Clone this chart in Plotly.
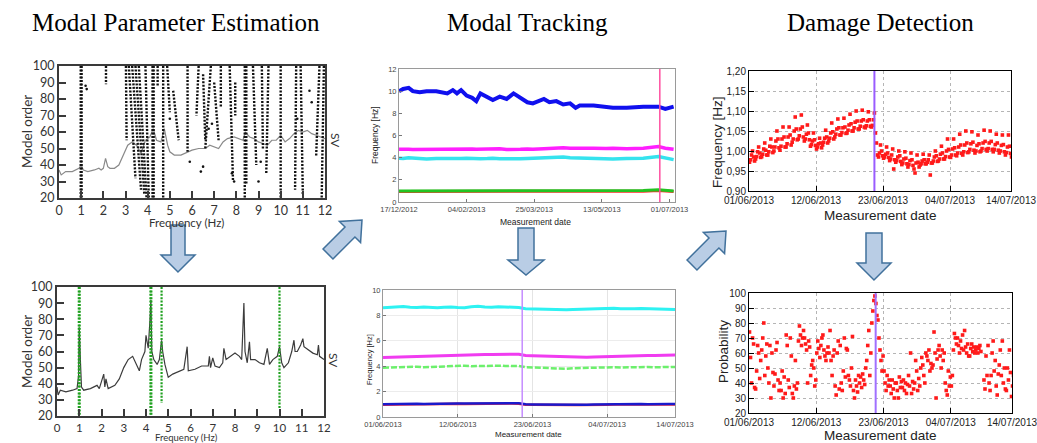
import plotly.graph_objects as go
from datetime import datetime, timedelta

W, H = 1037, 443

# ---------------- Panel 1 : stabilisation diagram ----------------
sv_freq_1 = [0, 0.1, 0.3, 0.6, 0.9, 1.0, 1.1, 1.3, 1.6, 1.8, 1.9, 2.0, 2.1, 2.2, 2.3,
             2.5, 2.7, 2.9, 3.1, 3.3, 3.5, 3.7, 3.9, 4.1, 4.25, 4.4, 4.6, 4.75, 4.9, 5.0,
             5.2, 5.5, 5.8, 6.0, 6.3, 6.6, 6.8, 7.0, 7.2, 7.4, 7.6, 7.9, 8.1, 8.3, 8.4,
             8.6, 8.8, 9.0, 9.2, 9.4, 9.6, 9.8, 10.0, 10.2, 10.4, 10.6, 10.8, 11.0, 11.2,
             11.4, 11.6, 11.8, 12.0]
sv_val_1 = [37, 34, 36, 36, 38, 40, 37, 36, 37, 38, 37, 38, 44, 39, 38,
            38, 40, 46, 52, 54, 52, 47, 55, 57, 62, 55, 54, 62, 52, 48,
            46, 46, 48, 49, 50, 50, 52, 51, 50, 54, 56, 57, 56, 55, 60,
            57, 56, 54, 53, 52, 55, 55, 58, 54, 56, 59, 61, 60, 61,
            59, 58, 57, 56]

stab_f_top = [0.98, 1.02, 2.12, 3.02, 3.15, 3.30, 3.45, 3.60, 3.90, 4.22, 4.27, 4.45, 4.70, 4.88, 5.15,
              5.80, 6.30, 6.50, 6.85, 7.00, 7.30, 7.70, 7.95, 8.38, 8.45, 8.75, 9.15, 9.45, 10.00, 10.70,
              10.90, 11.75, 11.95]
stab_o_top = [100, 100, 100, 100, 100, 100, 100, 100, 100, 100, 100, 100, 100, 100, 85,
              100, 100, 95, 100, 90, 100, 100, 90, 100, 100, 100, 100, 100, 100, 100,
              100, 100, 100]
stab_f_bot = [0.98, 1.02, 2.12, 3.05, 3.45, 3.70, 3.85, 3.95, 4.05, 4.22, 4.27, 4.45, 4.70, 5.00, 5.40,
              5.80, 6.20, 6.60, 6.60, 7.20, 7.30, 7.85, 7.95, 8.38, 8.45, 8.90, 9.20, 9.35, 10.00, 10.65,
              11.00, 11.60, 11.85]
stab_o_bot = [20, 20, 89, 55, 32, 25, 22, 20, 20, 20, 20, 88, 20, 72, 55,
              48, 70, 55, 50, 55, 75, 30, 70, 20, 28, 40, 50, 35, 20, 25,
              22, 45, 20]
iso_f = [1.20, 1.25, 6.40, 6.50, 5.90, 9.10, 7.80, 7.90, 9.00, 10.75, 5.00, 6.75, 6.90, 11.3, 11.4]
iso_o = [88, 86, 36, 39, 42, 42, 35, 30, 30, 68, 68, 62, 65, 85, 78]

# ---------------- Panel 2 : selected modes ----------------
sv_freq_2 = [0.0, 0.05, 0.15, 0.4, 0.7, 0.9, 0.97, 1.0, 1.05, 1.1, 1.2, 1.5, 1.8, 1.9, 2.1,
             2.15, 2.2, 2.3, 2.6, 2.8, 3.0, 3.2, 3.4, 3.5, 3.6, 3.7, 3.8, 3.95, 4.0, 4.1,
             4.18, 4.22, 4.26, 4.35, 4.5, 4.6, 4.7, 4.75, 4.85, 5.0, 5.2, 5.5, 5.7, 5.85, 5.9,
             6.2, 6.5, 6.8, 6.85, 6.9, 7.0, 7.1, 7.3, 7.45, 7.5, 7.6, 7.8, 8.0, 8.2, 8.3,
             8.4, 8.45, 8.55, 8.65, 8.7, 8.9, 9.1, 9.3, 9.45, 9.55, 9.7, 9.9, 10.0, 10.1, 10.2,
             10.4, 10.55, 10.65, 10.7, 10.8, 10.95, 11.05, 11.1, 11.3, 11.5, 11.7, 11.75, 11.8, 12.0]
sv_val_2 = [38, 33, 36, 35, 36, 37, 45, 75, 55, 38, 36, 37, 39, 37, 46,
            38, 43, 37, 39, 43, 50, 55, 57, 54, 52, 48, 55, 60, 70, 62,
            80, 92, 60, 55, 52, 55, 67, 60, 52, 44, 46, 48, 49, 63, 48,
            49, 51, 51, 57, 50, 56, 51, 50, 53, 62, 55, 57, 59, 57, 55,
            90, 60, 53, 66, 55, 55, 53, 52, 62, 52, 55, 57, 63, 53, 50,
            53, 60, 67, 60, 60, 64, 68, 63, 61, 59, 58, 64, 57, 55]
sel_f = [0.98, 1.02, 4.20, 4.24, 4.70, 10.00]
sel_o_top = [100, 100, 100, 100, 100, 100]
sel_o_bot = [20, 20, 20, 20, 28, 25]

# ---------------- Panel 3 : long-term tracking ----------------
track_start = "2012-12-17"
track_day = [0, 3, 7, 10, 15, 20, 27, 35, 39, 42, 45, 49, 53, 56, 59, 64, 68, 73, 78, 83, 88, 93, 97,
             105, 109, 114, 119, 124, 128, 131, 141, 150, 155, 165, 177, 188, 193, 199]
blue_3 = [10.0, 10.2, 10.3, 10.0, 9.9, 10.0, 10.0, 9.8, 10.1, 9.8, 10.1, 9.6, 9.4, 9.1, 9.8, 9.5, 9.2, 9.5,
          9.3, 9.8, 9.4, 9.0, 8.9, 9.3, 9.0, 9.1, 8.8, 8.9, 8.5, 8.7, 8.7, 8.6, 8.5, 8.5, 8.6, 8.6, 8.4, 8.6]
magenta_3 = [4.75, 4.78, 4.76, 4.74, 4.75, 4.72, 4.74, 4.75, 4.73, 4.76, 4.78, 4.80, 4.78, 4.75, 4.77,
             4.80, 4.82, 4.80, 4.74, 4.72, 4.75, 4.78, 4.76, 4.80, 4.85, 4.88, 4.90, 4.86, 4.84, 4.88,
             4.85, 4.82, 4.84, 4.80, 4.86, 5.00, 4.85, 4.75]
cyan_3 = [3.95, 3.92, 4.00, 3.96, 3.90, 3.88, 3.92, 3.90, 3.95, 3.88, 3.92, 3.95, 3.92, 3.88, 3.90,
          3.92, 3.95, 3.90, 3.88, 3.85, 3.90, 3.92, 3.95, 3.95, 4.00, 4.02, 4.05, 4.00, 3.98, 3.95,
          3.92, 3.90, 3.88, 3.92, 3.95, 4.10, 3.95, 3.82]
green_3 = [1.00, 1.00, 1.01, 1.00, 0.99, 1.00, 1.00, 1.00, 1.01, 1.00, 1.00, 0.99, 1.00, 1.00, 1.01,
           1.00, 1.00, 1.00, 0.99, 1.00, 1.00, 1.00, 1.01, 1.02, 1.02, 1.03, 1.03, 1.02, 1.02, 1.01,
           1.01, 1.00, 1.01, 1.02, 1.03, 1.10, 1.05, 1.00]
red_3 = [0.95, 0.95, 0.96, 0.95, 0.94, 0.95, 0.95, 0.95, 0.96, 0.95, 0.95, 0.94, 0.95, 0.95, 0.96,
         0.95, 0.95, 0.95, 0.94, 0.95, 0.95, 0.95, 0.96, 0.97, 0.97, 0.98, 0.98, 0.97, 0.97, 0.96,
         0.96, 0.95, 0.96, 0.97, 0.98, 1.04, 1.00, 0.95]
track_ticks = ["2012-12-17", "2013-02-04", "2013-03-25", "2013-05-13", "2013-07-01"]
track_ticktext = ["17/12/2012", "04/02/2013", "25/03/2013", "13/05/2013", "01/07/2013"]
track_damage = "2013-06-24"

# ---------------- Panel 4 : short-term tracking (daily) ----------------
mon_start = "2013-06-01"
cyan_4 = [8.60, 8.62, 8.66, 8.70, 8.64, 8.62, 8.66, 8.63, 8.61, 8.64, 8.66, 8.62, 8.60, 8.68, 8.72,
          8.66, 8.64, 8.68, 8.66, 8.64, 8.62, 8.52, 8.50, 8.46, 8.48, 8.45, 8.42, 8.44, 8.46, 8.48,
          8.50, 8.52, 8.50, 8.54, 8.56, 8.52, 8.50, 8.52, 8.54, 8.52, 8.50, 8.52, 8.48, 8.46]
magenta_4 = [4.68, 4.70, 4.72, 4.74, 4.76, 4.78, 4.80, 4.80, 4.82, 4.84, 4.86, 4.86, 4.88, 4.90, 4.90,
             4.92, 4.92, 4.94, 4.94, 4.95, 4.94, 4.84, 4.82, 4.80, 4.80, 4.78, 4.76, 4.74, 4.72, 4.72,
             4.70, 4.72, 4.74, 4.76, 4.78, 4.78, 4.80, 4.82, 4.82, 4.84, 4.84, 4.86, 4.86, 4.88]
green_4 = [3.88, 3.90, 3.92, 3.96, 3.98, 3.96, 3.92, 3.94, 3.96, 3.98, 4.00, 4.02, 4.04, 4.00, 4.02,
           4.04, 4.06, 4.04, 4.02, 4.04, 4.02, 3.92, 3.90, 3.88, 3.86, 3.84, 3.82, 3.80, 3.84, 3.86,
           3.84, 3.86, 3.88, 3.90, 3.92, 3.90, 3.92, 3.94, 3.92, 3.94, 3.92, 3.94, 3.92, 3.94]
blue_4 = [1.00, 1.02, 1.00, 1.03, 1.02, 1.04, 1.03, 1.05, 1.04, 1.06, 1.05, 1.07, 1.06, 1.07, 1.08,
          1.07, 1.09, 1.08, 1.10, 1.09, 1.08, 1.00, 0.99, 0.98, 0.98, 0.97, 0.96, 0.96, 0.97, 0.98,
          0.97, 0.99, 1.00, 0.99, 1.01, 1.00, 1.02, 1.01, 1.02, 1.01, 1.03, 1.02, 1.03, 1.02]
red_4 = [0.97, 0.99, 0.97, 1.00, 0.99, 1.01, 1.00, 1.02, 1.01, 1.03, 1.02, 1.04, 1.03, 1.04, 1.05,
         1.04, 1.06, 1.05, 1.07, 1.06, 1.05, 0.97, 0.96, 0.95, 0.95, 0.94, 0.93, 0.93, 0.94, 0.95,
         0.94, 0.96, 0.97, 0.96, 0.98, 0.97, 0.99, 0.98, 0.99, 0.98, 1.00, 0.99, 1.00, 0.99]
mon_ticks = ["2013-06-01", "2013-06-12", "2013-06-23", "2013-07-04", "2013-07-14"]
mon_ticktext = ["01/06/2013", "12/06/2013", "23/06/2013", "04/07/2013", "14/07/2013"]
mon_damage = "2013-06-21 12:00"

# ---------------- Panel 5 : first frequency (6 samples per day, one row per day) ----------------
freq_5 = [
    0.972, 0.978, 0.990, 1.000, 0.985, 0.975,
    0.980, 0.986, 0.998, 1.010, 0.995, 0.984,
    0.986, 0.992, 1.005, 1.020, 1.002, 0.990,
    0.990, 0.998, 1.012, 1.030, 1.010, 0.996,
    1.000, 1.010, 1.025, 1.050, 1.030, 1.008,
    1.002, 1.012, 1.030, 1.060, 1.035, 1.010,
    1.010, 1.018, 1.035, 1.060, 1.040, 1.015,
    1.022, 1.030, 1.050, 1.085, 1.055, 1.028,
    1.030, 1.038, 1.055, 1.090, 1.060, 1.035,
    1.025, 1.030, 1.042, 1.065, 1.045, 1.028,
    1.012, 1.016, 1.025, 1.045, 1.028, 1.014,
    1.005, 1.010, 1.018, 1.032, 1.020, 1.008,
    1.015, 1.022, 1.032, 1.052, 1.035, 1.020,
    1.025, 1.032, 1.045, 1.070, 1.048, 1.030,
    1.035, 1.042, 1.055, 1.080, 1.058, 1.040,
    1.040, 1.046, 1.058, 1.082, 1.060, 1.044,
    1.045, 1.052, 1.065, 1.092, 1.068, 1.050,
    1.050, 1.058, 1.072, 1.100, 1.075, 1.055,
    1.055, 1.062, 1.075, 1.102, 1.078, 1.060,
    1.058, 1.063, 1.075, 1.098, 1.078, 1.062,
    1.060, 1.064, 1.078, 1.095, 1.045, 1.020,
    0.990, 0.985, 0.995, 1.015, 1.000, 0.988,
    0.982, 0.985, 0.992, 1.010, 0.995, 0.984,
    0.976, 0.980, 0.990, 1.005, 0.955, 0.978,
    0.972, 0.976, 0.985, 1.000, 0.988, 0.974,
    0.966, 0.970, 0.980, 0.998, 0.982, 0.968,
    0.960, 0.966, 0.976, 0.995, 0.978, 0.964,
    0.955, 0.945, 0.970, 0.990, 0.972, 0.960,
    0.965, 0.968, 0.975, 0.992, 0.978, 0.968,
    0.968, 0.972, 0.978, 0.990, 0.940, 0.970,
    0.970, 0.975, 0.985, 1.000, 0.988, 0.974,
    0.975, 0.980, 0.992, 1.012, 0.995, 0.980,
    0.980, 0.986, 1.000, 1.030, 1.004, 0.985,
    0.984, 0.990, 1.005, 1.030, 1.008, 0.990,
    0.988, 0.995, 1.010, 1.042, 1.015, 0.994,
    0.990, 0.998, 1.015, 1.050, 1.020, 0.996,
    0.998, 1.004, 1.018, 1.048, 1.022, 1.002,
    0.995, 1.000, 1.014, 1.040, 1.018, 0.998,
    1.000, 1.006, 1.020, 1.052, 1.024, 1.004,
    1.000, 1.006, 1.020, 1.050, 1.024, 1.004,
    0.998, 1.004, 1.016, 1.042, 1.020, 1.002,
    0.995, 1.000, 1.014, 1.040, 1.016, 0.998,
    0.990, 0.996, 1.010, 1.040, 1.012, 0.994,
    0.985, 0.990, 1.002, 1.030, 1.005, 0.975]
freq_ticks = [0.90, 0.95, 1.00, 1.05, 1.10, 1.15, 1.20]
freq_ticktext = ["0,90", "0,95", "1,00", "1,05", "1,10", "1,15", "1,20"]
damage_5 = "2013-06-21 14:00"

# ---------------- Panel 6 : damage probability (6 samples per day, one row per day) ----------------
prob_6 = [
    74, 57, 40, 70, 66, 37,
    36, 48, 65, 60, 43, 55,
    62, 70, 80, 45, 58, 66,
    50, 40, 65, 30, 60, 47,
    38, 46, 62, 67, 42, 35,
    40, 35, 48, 30, 44, 33,
    72, 65, 42, 37, 70, 58,
    33, 30, 38, 55, 36, 40,
    68, 78, 72, 65, 70, 75,
    70, 66, 62, 40, 68, 64,
    45, 52, 55, 50, 38, 42,
    60, 68, 63, 57, 65, 70,
    72, 62, 58, 55, 60, 64,
    60, 75, 55, 45, 58, 62,
    38, 32, 60, 68, 36, 65,
    40, 35, 48, 70, 44, 63,
    62, 45, 42, 38, 50, 71,
    35, 30, 42, 38, 34, 45,
    40, 44, 37, 46, 42, 39,
    50, 55, 65, 75, 45, 60,
    80, 88, 95, 98, 93, 85,
    82, 70, 62, 55, 48, 58,
    48, 40, 35, 45, 38, 42,
    38, 33, 42, 36, 30, 40,
    40, 35, 30, 44, 37, 41,
    37, 42, 35, 40, 33, 39,
    45, 38, 60, 33, 41, 36,
    40, 55, 48, 35, 43, 38,
    50, 57, 52, 45, 40, 60,
    58, 55, 62, 48, 53, 50,
    52, 74, 60, 30, 56, 62,
    65, 58, 50, 62, 55, 60,
    40, 35, 32, 48, 38, 44,
    38, 45, 62, 73, 70, 66,
    70, 65, 60, 68, 63, 72,
    62, 75, 64, 60, 66, 58,
    58, 63, 66, 61, 64, 60,
    62, 64, 60, 63, 65, 61,
    None, None, 42, 36, 58, 45,
    65, 40, 35, 45, 60, 68,
    48, 55, 38, 32, 46, 52,
    62, 45, 68, 40, 50, 36,
    35, 50, 42, 62, 47, 31,
    38, 45, 40, 33, 48, 42]
damage_6 = "2013-06-21 17:00"

# ================= helpers =================
def xdom(x0, x1):
    return [x0 / W, x1 / W]

def ydom(ytop, ybot):
    return [1 - ybot / H, 1 - ytop / H]

def segs(xa, ya, xb, yb):
    xs, ys = [], []
    for a, b, c, d in zip(xa, ya, xb, yb):
        xs += [a, c, None]
        ys += [b, d, None]
    return xs, ys

def day_dates(start, offsets):
    s = datetime.fromisoformat(start)
    return [s + timedelta(days=d) for d in offsets]

def sample_times(start, n, per_day):
    s = datetime.fromisoformat(start)
    step = 24.0 / per_day
    return [s + timedelta(hours=step * (i + 0.5)) for i in range(n)]

fig = go.Figure()

# ---- panel 1
sx, sy = segs(stab_f_top, stab_o_top, stab_f_bot, stab_o_bot)
fig.add_trace(go.Scatter(x=sv_freq_1, y=sv_val_1, mode="lines",
                         line=dict(color="#8a8a8a", width=1.2), xaxis="x", yaxis="y"))
fig.add_trace(go.Scatter(x=sx, y=sy, mode="lines",
                         line=dict(color="#111111", width=2.4, dash="2px,1.5px"), xaxis="x", yaxis="y"))
fig.add_trace(go.Scatter(x=iso_f, y=iso_o, mode="markers",
                         marker=dict(color="#111111", size=2.6, symbol="circle"), xaxis="x", yaxis="y"))

# ---- panel 2
gx, gy = segs(sel_f, sel_o_top, sel_f, sel_o_bot)
fig.add_trace(go.Scatter(x=sv_freq_2, y=sv_val_2, mode="lines",
                         line=dict(color="#3c3c3c", width=1.2), xaxis="x2", yaxis="y2"))
fig.add_trace(go.Scatter(x=gx, y=gy, mode="lines",
                         line=dict(color="#1fa01f", width=2.2, dash="2px,1.4px"), xaxis="x2", yaxis="y2"))

# ---- panel 3
td = day_dates(track_start, track_day)
for vals, col, wd in [(red_3, "#ff2a2a", 3), (green_3, "#22c422", 3), (cyan_3, "#35e3ee", 3.5),
                      (magenta_3, "#ff1fff", 3.5), (blue_3, "#1010ee", 4)]:
    fig.add_trace(go.Scatter(x=td, y=vals, mode="lines", line=dict(color=col, width=wd),
                             xaxis="x3", yaxis="y3"))

# ---- panel 4
md = day_dates(mon_start, list(range(len(cyan_4))))
for vals, col, wd, ds in [(cyan_4, "#2ef2f2", 3, "solid"), (magenta_4, "#f03cf0", 3, "solid"),
                          (green_4, "#6cf06c", 2.5, "6px,2px"), (red_4, "#ff3030", 2.5, "solid"),
                          (blue_4, "#1a1acc", 2.5, "solid")]:
    fig.add_trace(go.Scatter(x=md, y=vals, mode="lines", line=dict(color=col, width=wd, dash=ds),
                             xaxis="x4", yaxis="y4"))

# ---- panel 5
fig.add_trace(go.Scatter(x=sample_times(mon_start, len(freq_5), 6), y=freq_5, mode="markers",
                         marker=dict(color="#ff1a1a", size=3.6, symbol="square"), xaxis="x5", yaxis="y5"))

# ---- panel 6
fig.add_trace(go.Scatter(x=sample_times(mon_start, len(prob_6), 6), y=prob_6, mode="markers",
                         marker=dict(color="#ff1a1a", size=3.6, symbol="square"), xaxis="x6", yaxis="y6"))

# ================= axes =================
ax_left = dict(showline=True, linecolor="#3a3a3a", linewidth=2, mirror=True, ticks="inside",
               ticklen=7, tickwidth=1.5, tickcolor="#3a3a3a", showgrid=False, zeroline=False,
               tickfont=dict(family="Lato", size=12.5, color="#333333"), tickangle=0,
               automargin=False, ticklabeloverflow="allow")
ax_mid = dict(showline=True, linecolor="#9a9a9a", linewidth=1, mirror=True, ticks="inside",
              ticklen=3, tickcolor="#777777", showgrid=False, zeroline=False,
              tickfont=dict(family="Liberation Sans", size=7.5, color="#444444"), tickangle=0,
              automargin=False, ticklabeloverflow="allow")
ax_right = dict(showline=True, linecolor="#000000", linewidth=1, mirror=True, ticks="inside",
                ticklen=5, tickcolor="#000000", showgrid=True, gridcolor="#b5b5b5", griddash="dot",
                zeroline=False, tickfont=dict(family="Liberation Sans", size=10, color="#222222"),
                tickangle=0, automargin=False, ticklabeloverflow="allow")

lay = dict(
    xaxis=dict(ax_left, domain=xdom(59, 325), anchor="y", range=[0, 12], dtick=1),
    yaxis=dict(ax_left, domain=ydom(66, 198), anchor="x", range=[20, 100], dtick=10),
    xaxis2=dict(ax_left, domain=xdom(57, 324), anchor="y2", range=[0, 12], dtick=1,
                tickfont=dict(family="Lato", size=11.5, color="#333333")),
    yaxis2=dict(ax_left, domain=ydom(287, 416), anchor="x2", range=[20, 100], dtick=10),
    xaxis3=dict(ax_mid, domain=xdom(399, 675), anchor="y3", type="date",
                range=["2012-12-17", "2013-07-05"], tickvals=track_ticks, ticktext=track_ticktext),
    yaxis3=dict(ax_mid, domain=ydom(69, 202), anchor="x3", range=[0, 12], dtick=2),
    xaxis4=dict(ax_mid, domain=xdom(383, 675), anchor="y4", type="date",
                range=["2013-06-01", "2013-07-14"], tickvals=mon_ticks, ticktext=mon_ticktext,
                showgrid=True, gridcolor="#e4e4e4"),
    yaxis4=dict(ax_mid, domain=ydom(290, 417), anchor="x4", range=[0, 10], dtick=2,
                showgrid=True, gridcolor="#ececec"),
    xaxis5=dict(ax_right, domain=xdom(749, 1011), anchor="y5", type="date",
                range=["2013-06-01", "2013-07-14"], tickvals=mon_ticks, ticktext=mon_ticktext),
    yaxis5=dict(ax_right, domain=ydom(71, 191), anchor="x5", range=[0.90, 1.20],
                tickvals=freq_ticks, ticktext=freq_ticktext),
    xaxis6=dict(ax_right, domain=xdom(749, 1012), anchor="y6", type="date",
                range=["2013-06-01", "2013-07-14"], tickvals=mon_ticks, ticktext=mon_ticktext),
    yaxis6=dict(ax_right, domain=ydom(293, 413), anchor="x6", range=[20, 100], dtick=10),
)

# ================= annotations =================
def ann(text, x, y, size, family="Liberation Sans", color="#222222", angle=0):
    return dict(text=text, x=x / W, y=1 - y / H, xref="paper", yref="paper", showarrow=False,
                xanchor="center", yanchor="middle", textangle=angle,
                font=dict(family=family, size=size, color=color))

annotations = [
    ann("Modal Parameter Estimation", 176, 22, 25, "Liberation Serif", "#000000"),
    ann("Modal Tracking", 527, 22, 25, "Liberation Serif", "#000000"),
    ann("Damage Detection", 880, 22, 25, "Liberation Serif", "#000000"),
    ann("Model order", 27, 132, 13.5, "Lato", "#333333", -90),
    ann("Frequency (Hz)", 186, 223, 11.5, "Lato", "#333333"),
    ann("SV", 335, 140, 12, "Lato", "#333333", 90),
    ann("Model order", 27, 352, 13.5, "Lato", "#333333", -90),
    ann("Frequency (Hz)", 186, 437.5, 9.5, "Lato", "#333333"),
    ann("SV", 334, 360, 12, "Lato", "#333333", 90),
    ann("Frequency [Hz]", 375, 135, 8.5, angle=-90),
    ann("Measurement date", 535, 222, 8.5),
    ann("Frequency [Hz]", 369, 360, 7.5, angle=-90),
    ann("Measurement date", 528, 434, 8),
    ann("Frequency [Hz]", 717, 142, 13.5, angle=-90),
    ann("Measurement date", 880, 215, 13.5),
    ann("Probability", 723, 352, 13.5, angle=-90),
    ann("Measurement date", 880, 435, 13.5),
]

# ================= shapes: damage lines + arrows =================
shapes = [
    dict(type="line", xref="x3", yref="y3 domain", x0=track_damage, x1=track_damage, y0=0, y1=1,
         line=dict(color="#ff4fa0", width=1.5)),
    dict(type="line", xref="x4", yref="y4 domain", x0=mon_damage, x1=mon_damage, y0=0, y1=1,
         line=dict(color="#c58cff", width=1.5)),
    dict(type="line", xref="x5", yref="y5 domain", x0=damage_5, x1=damage_5, y0=0, y1=1,
         line=dict(color="#9a5cff", width=2)),
    dict(type="line", xref="x6", yref="y6 domain", x0=damage_6, x1=damage_6, y0=0, y1=1,
         line=dict(color="#a070ff", width=2)),
]

def to_path(pts):
    return "M " + " L ".join(f"{x / W:.5f},{1 - y / H:.5f}" for x, y in pts) + " Z"

def down_arrow(cx, y0, y1, y2, ws, wh):
    return [(cx - ws, y0), (cx + ws, y0), (cx + ws, y1), (cx + wh, y1), (cx, y2),
            (cx - wh, y1), (cx - ws, y1)]

def diag_arrow(tail, tip, ws, wh, hl):
    dx, dy = tip[0] - tail[0], tip[1] - tail[1]
    L = (dx * dx + dy * dy) ** 0.5
    ux, uy = dx / L, dy / L
    nx, ny = -uy, ux
    bx, by = tip[0] - ux * hl, tip[1] - uy * hl
    return [(tail[0] + nx * ws, tail[1] + ny * ws), (bx + nx * ws, by + ny * ws),
            (bx + nx * wh, by + ny * wh), tip, (bx - nx * wh, by - ny * wh),
            (bx - nx * ws, by - ny * ws), (tail[0] - nx * ws, tail[1] - ny * ws)]

arrows = [
    down_arrow(178, 225, 255, 272, 7, 17),
    down_arrow(526, 228, 260, 275, 8, 18),
    down_arrow(874, 233, 263, 280, 8, 17),
    diag_arrow((328, 254), (362, 220), 7, 15, 17),
    diag_arrow((692, 265), (726, 231), 7, 15, 17),
]
for a in arrows:
    shapes.append(dict(type="path", xref="paper", yref="paper", path=to_path(a),
                       fillcolor="#b9cde5", line=dict(color="#41719c", width=1.5)))

fig.update_layout(
    width=W, height=H, margin=dict(l=0, r=0, t=0, b=0, autoexpand=False),
    paper_bgcolor="white", plot_bgcolor="white", showlegend=False,
    annotations=annotations, shapes=shapes, **lay)

fig.write_html("out.html")
